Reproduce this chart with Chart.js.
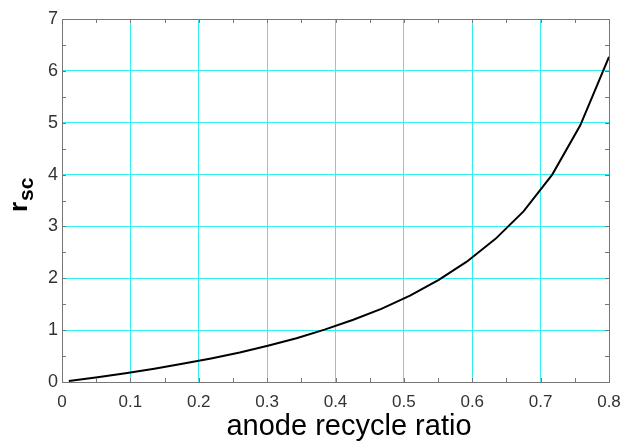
<!DOCTYPE html>
<html>
<head>
<meta charset="utf-8">
<title>r_sc vs anode recycle ratio</title>
<script src="https://cdn.jsdelivr.net/npm/chart.js@4.4.1/dist/chart.umd.min.js"></script>
<style>
  html, body { margin: 0; padding: 0; background: #fff; }
  #wrap { position: relative; width: 631px; height: 441px; }
</style>
</head>
<body>
<div id="wrap"><canvas id="chart"></canvas></div>
<script>
// ---- data ----
const recycleRatio = [0.01, 0.052, 0.093, 0.135, 0.176, 0.218, 0.26, 0.301, 0.343, 0.384,
                      0.426, 0.467, 0.509, 0.551, 0.592, 0.634, 0.675, 0.717, 0.758, 0.8];
const rsc = [0.02, 0.09, 0.17, 0.255, 0.35, 0.455, 0.57, 0.70, 0.845, 1.01,
             1.20, 1.41, 1.665, 1.97, 2.32, 2.76, 3.29, 4.0, 4.95, 6.27];
const xTicks = [0, 0.1, 0.2, 0.3, 0.4, 0.5, 0.6, 0.7, 0.8];
const yTicks = [0, 1, 2, 3, 4, 5, 6, 7];
const xTitle = 'anode recycle ratio';

const FONT = "'Liberation Sans', Arial, Helvetica, sans-serif";
const GRID = '#33f0f0';
const FRAME = '#777777';

// frame, inward minor ticks and the two axis titles
const decorPlugin = {
    id: 'decor',
    afterDraw(chart) {
        const { ctx, chartArea: a, scales: { x, y } } = chart;
        ctx.save();
        ctx.strokeStyle = FRAME;
        ctx.lineWidth = 1;
        ctx.strokeRect(a.left + 0.5, a.top + 0.5, a.right - a.left, a.bottom - a.top);

        // minor ticks every 0.05 on x, every 0.5 on y
        ctx.beginPath();
        for (let i = 1; i < 16; i++) {
            const px = Math.round(x.getPixelForValue(i * 0.05)) + 0.5;
            ctx.moveTo(px, a.bottom); ctx.lineTo(px, a.bottom - 4);
            ctx.moveTo(px, a.top); ctx.lineTo(px, a.top + 4);
        }
        for (let i = 1; i < 14; i++) {
            const py = Math.round(y.getPixelForValue(i * 0.5)) + 0.5;
            ctx.moveTo(a.left, py); ctx.lineTo(a.left + 4, py);
            ctx.moveTo(a.right, py); ctx.lineTo(a.right - 4, py);
        }
        ctx.stroke();

        // x title
        ctx.fillStyle = '#000';
        ctx.font = `29px ${FONT}`;
        ctx.textAlign = 'center';
        ctx.textBaseline = 'alphabetic';
        ctx.fillText(xTitle, 349, 435);

        // y title: r with subscript sc, rotated
        ctx.translate(27, 212);
        ctx.rotate(-Math.PI / 2);
        ctx.textAlign = 'left';
        ctx.font = `bold 26px ${FONT}`;
        ctx.fillText('r', 0, 0);
        const rw = ctx.measureText('r').width;
        ctx.font = `bold 21px ${FONT}`;
        ctx.fillText('sc', rw + 1, 6);
        ctx.restore();
    }
};

new Chart(document.getElementById('chart'), {
    type: 'line',
    data: {
        datasets: [{
            label: 'r_sc',
            data: recycleRatio.map((r, i) => ({ x: r, y: rsc[i] })),
            borderColor: '#000',
            borderWidth: 2,
            pointRadius: 0,
            tension: 0,
            fill: false,
        }],
    },
    options: {
        responsive: true,
        maintainAspectRatio: false,
        animation: false,
        parsing: false,
        layout: { padding: { left: 0, top: 19, right: 22, bottom: 0 } },
        plugins: {
            legend: { display: false },
            tooltip: { enabled: false },
        },
        scales: {
            x: {
                type: 'linear',
                min: 0,
                max: 0.8,
                afterBuildTicks: s => { s.ticks = xTicks.map(v => ({ value: v })); },
                afterFit: s => { s.height = 59; },
                grid: { color: GRID, lineWidth: 1, drawTicks: false },
                border: { display: false },
                ticks: {
                    color: '#333',
                    padding: 10,
                    maxRotation: 0,
                    font: { family: FONT, size: 17 },
                    callback: v => String(+v.toFixed(1)),
                },
            },
            y: {
                min: 0,
                max: 7,
                afterBuildTicks: s => { s.ticks = yTicks.map(v => ({ value: v })); },
                afterFit: s => { s.width = 62; },
                grid: { color: GRID, lineWidth: 1, drawTicks: false },
                border: { display: false },
                ticks: {
                    color: '#333',
                    padding: 4,
                    font: { family: FONT, size: 18 },
                    callback: v => String(v),
                },
            },
        },
    },
    plugins: [decorPlugin],
});
</script>
</body>
</html>
